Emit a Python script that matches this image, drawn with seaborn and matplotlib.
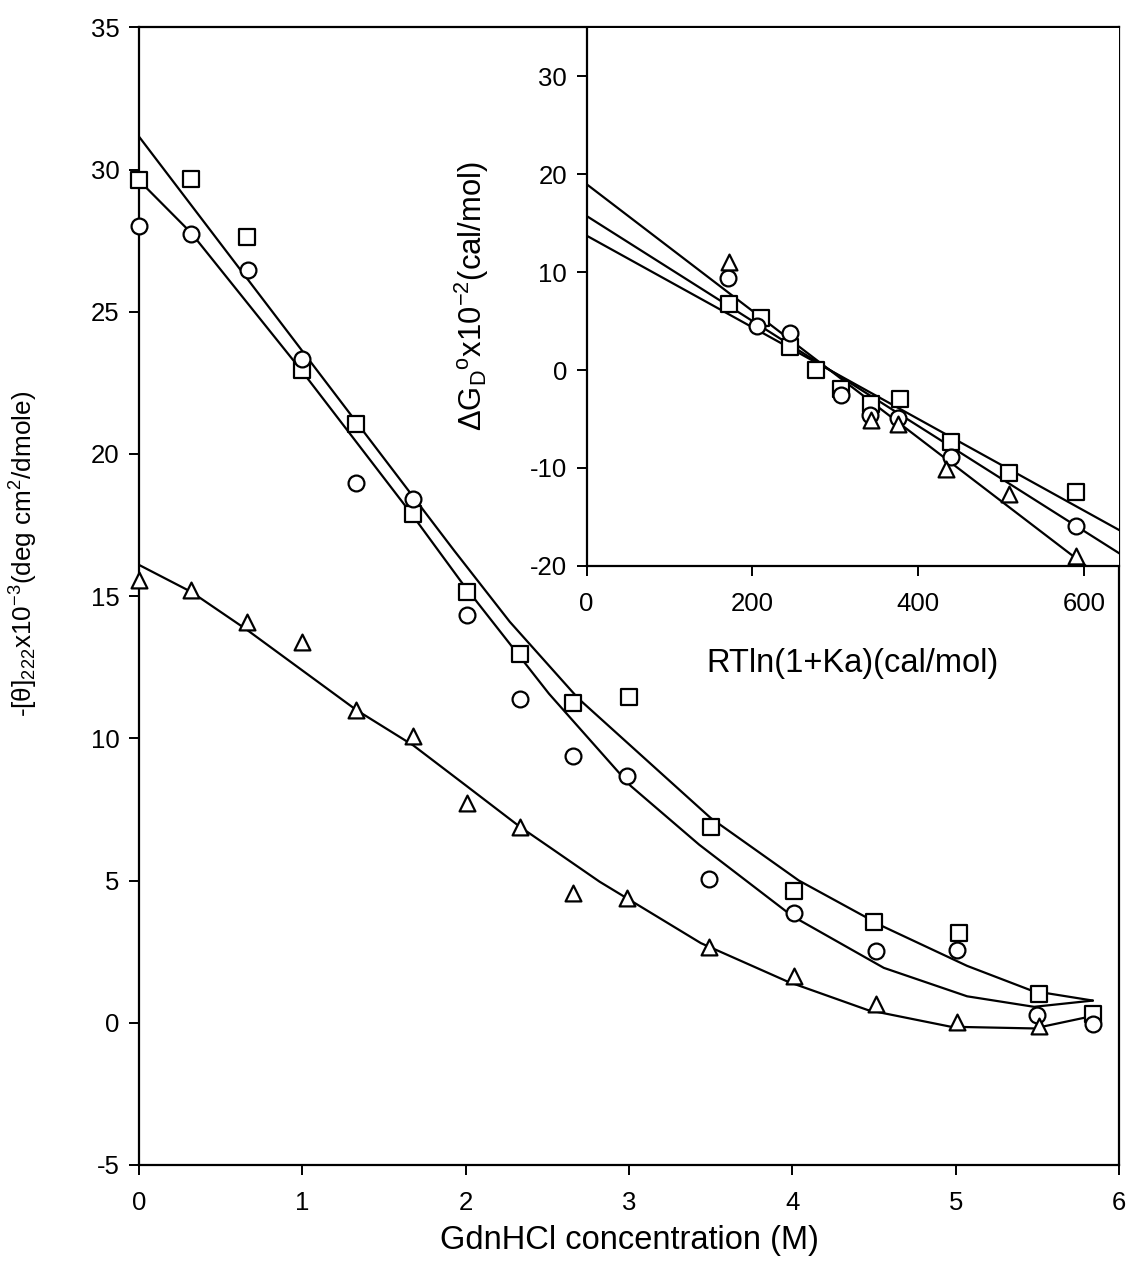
import pandas as pd
import seaborn as sns
import matplotlib.pyplot as plt

# ##############################################################################
# values
# ##############################################################################

# main panel: -[theta]222 vs GdnHCl concentration, three samples
sq_conc = [0, 0.32, 0.66, 1.0, 1.33, 1.68, 2.01, 2.33, 2.66, 3.0, 3.5, 4.01, 4.5, 5.02, 5.51, 5.84]
sq_theta = [29.62, 29.66, 27.64, 22.97, 21.07, 17.88, 15.14, 12.95, 11.26, 11.45, 6.88, 4.64, 3.55, 3.14, 1.0, 0.31]

ci_conc = [0, 0.32, 0.67, 1.0, 1.33, 1.68, 2.01, 2.33, 2.66, 2.99, 3.49, 4.01, 4.51, 5.01, 5.5, 5.84]
ci_theta = [28.03, 27.74, 26.46, 23.33, 18.99, 18.41, 14.33, 11.37, 9.37, 8.66, 5.06, 3.86, 2.54, 2.56, 0.28, -0.05]

tr_conc = [0, 0.32, 0.66, 1.0, 1.33, 1.68, 2.01, 2.33, 2.66, 2.99, 3.49, 4.01, 4.51, 5.01, 5.51]
tr_theta = [15.57, 15.2, 14.08, 13.39, 10.99, 10.08, 7.71, 6.88, 4.57, 4.4, 2.66, 1.66, 0.65, 0.03, -0.12]

# fitted curves
sq_fit_conc = [0, 1.0, 1.93, 2.27, 2.69, 3.5, 4.04, 4.55, 5.07, 5.47, 5.84]
sq_fit_theta = [31.16, 23.62, 16.6, 14.1, 11.4, 7.2, 5.0, 3.4, 2.0, 1.12, 0.78]

ci_fit_conc = [0, 0.32, 0.99, 1.67, 1.98, 2.51, 3.01, 3.43, 4.0, 4.56, 5.07, 5.48, 5.84]
ci_fit_theta = [29.62, 27.77, 22.97, 17.88, 15.45, 11.57, 8.33, 6.26, 3.75, 1.93, 0.93, 0.56, 0.78]

tr_fit_conc = [0, 0.32, 0.66, 1.33, 1.68, 2.0, 2.33, 2.52, 2.82, 3.44, 3.97, 4.46, 4.97, 5.48, 5.8]
tr_fit_theta = [16.1, 15.15, 13.82, 11.0, 9.75, 8.35, 6.9, 6.15, 4.96, 2.8, 1.45, 0.45, -0.14, -0.2, 0.19]

# inset: dG vs RTln(1+Ka)
in_sq_x = [171.6, 210, 245, 276.4, 307.3, 343, 378.3, 439.7, 509.5, 590.3]
in_sq_y = [6.73, 5.37, 2.36, 0.03, -1.9, -3.44, -2.94, -7.36, -10.55, -12.46]

in_ci_x = [171, 206, 245.3, 307.4, 341.7, 376, 439.7, 589.9]
in_ci_y = [9.39, 4.51, 3.79, -2.5, -4.6, -4.92, -8.9, -15.97]

in_tr_x = [171.3, 343, 376, 433.4, 509.5, 590.6]
in_tr_y = [11.09, -5.14, -5.53, -10.1, -12.7, -18.97]

# straight fits in the inset (end points read at the axis edges)
in_sq_fit_x = [0, 654]
in_sq_fit_y = [13.74, -16.9]
in_ci_fit_x = [0, 654]
in_ci_fit_y = [15.75, -19.35]
in_tr_fit_x = [0, 602]
in_tr_fit_y = [19.0, -20.0]

# ##############################################################################
# plot
# ##############################################################################

sns.set_style("ticks")
plt.rcParams['font.family'] = ['Liberation Sans', 'DejaVu Sans']
plt.rcParams['mathtext.fontset'] = 'custom'
plt.rcParams['mathtext.rm'] = 'Liberation Sans'
plt.rcParams['mathtext.it'] = 'Liberation Sans:italic'
plt.rcParams['mathtext.bf'] = 'Liberation Sans:bold'
plt.rcParams['mathtext.default'] = 'regular'
plt.rcParams['axes.unicode_minus'] = False
# seaborn greys the text, the scan is plain black
plt.rcParams['text.color'] = 'black'
plt.rcParams['axes.labelcolor'] = 'black'
plt.rcParams['xtick.color'] = 'black'
plt.rcParams['ytick.color'] = 'black'

fig = plt.figure(figsize=(11.31, 12.81), dpi=100)
ax = fig.add_axes([0.1229, 0.0906, 0.8665, 0.888])
ax_in = fig.add_axes([0.5186, 0.5583, 0.4708, 0.4202])

mk = dict(color='white', edgecolor='black', linewidth=1.6, s=130, clip_on=False, zorder=3, legend=False)
ln = dict(color='black', linewidth=1.6, estimator=None, sort=False, legend=False)

# main panel
for fx, fy in [(sq_fit_conc, sq_fit_theta), (ci_fit_conc, ci_fit_theta), (tr_fit_conc, tr_fit_theta)]:
    sns.lineplot(x=fx, y=fy, ax=ax, **ln)
sns.scatterplot(x=sq_conc, y=sq_theta, marker='s', ax=ax, **mk)
sns.scatterplot(x=ci_conc, y=ci_theta, marker='o', ax=ax, **mk)
sns.scatterplot(x=tr_conc, y=tr_theta, marker='^', ax=ax, **mk)

ax.set_xlim(0, 6)
ax.set_ylim(-5, 35)
ax.set_xticks(range(0, 7))
ax.set_yticks(range(-5, 36, 5))
ax.set_xlabel("GdnHCl concentration (M)", fontsize=23.5, va='center')
ax.set_ylabel("-[θ]$_{222}$x10$^{-3}$(deg cm$^{2}$/dmole)", fontsize=18.8, va='center')
ax.xaxis.set_label_coords(0.5, -0.066)
ax.yaxis.set_label_coords(-0.117, 0.537)
ax.tick_params(direction='out', length=7, width=1.4, labelsize=18.5, color='black')
ax.tick_params(axis='x', pad=12)
ax.tick_params(axis='y', pad=7)
for s in ax.spines.values():
    s.set_linewidth(1.6)
    s.set_color('black')

# inset
for fx, fy in [(in_sq_fit_x, in_sq_fit_y), (in_ci_fit_x, in_ci_fit_y), (in_tr_fit_x, in_tr_fit_y)]:
    sns.lineplot(x=fx, y=fy, ax=ax_in, **ln)
sns.scatterplot(x=in_sq_x, y=in_sq_y, marker='s', ax=ax_in, **mk)
sns.scatterplot(x=in_ci_x, y=in_ci_y, marker='o', ax=ax_in, **mk)
sns.scatterplot(x=in_tr_x, y=in_tr_y, marker='^', ax=ax_in, **mk)

ax_in.set_xlim(0, 642)
ax_in.set_ylim(-20, 35)
ax_in.set_xticks([0, 200, 400, 600])
ax_in.set_yticks([-20, -10, 0, 10, 20, 30])
ax_in.set_xlabel("RTln(1+Ka)(cal/mol)", fontsize=23.5, va='center')
ax_in.set_ylabel("ΔG$_D$$^o$x10$^{-2}$(cal/mol)", fontsize=22.3, va='center')
ax_in.xaxis.set_label_coords(0.5, -0.1815)
ax_in.yaxis.set_label_coords(-0.215, 0.5)
ax_in.tick_params(direction='out', length=7, width=1.4, labelsize=18.5, color='black')
ax_in.tick_params(axis='x', pad=12)
ax_in.tick_params(axis='y', pad=7)
ax_in.spines['top'].set_visible(False)
ax_in.spines['right'].set_visible(False)
for s in ['left', 'bottom']:
    ax_in.spines[s].set_linewidth(1.6)
    ax_in.spines[s].set_color('black')
ax_in.set_facecolor('white')

plt.savefig("out.png", dpi=100)
plt.close()
